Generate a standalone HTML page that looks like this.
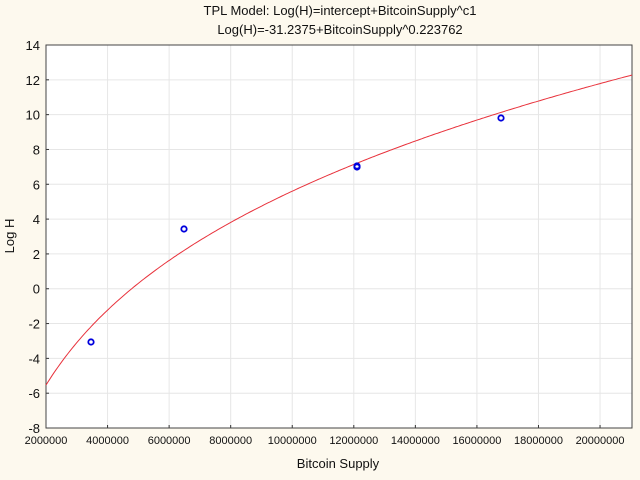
<!DOCTYPE html><html><head><meta charset="utf-8"><style>
body{margin:0;background:#fdf9ee;width:640px;height:475px;overflow:hidden}
text{font-family:"Liberation Sans",sans-serif;fill:#111}
</style></head><body>
<svg id="s" width="640" height="475" xmlns="http://www.w3.org/2000/svg">
<rect x="46" y="45" width="586" height="383" fill="#fff"/>
<g id="grid" stroke="#e6e6e6" stroke-width="1"></g>
<rect x="46" y="45" width="586" height="383" fill="none" stroke="#444" stroke-width="1"/>
<text x="340" y="15" font-size="13" text-anchor="middle">TPL Model: Log(H)=intercept+BitcoinSupply^c1</text>
<text x="340" y="34" font-size="13" text-anchor="middle">Log(H)=-31.2375+BitcoinSupply^0.223762</text>
<text x="338" y="468" font-size="13" text-anchor="middle">Bitcoin Supply</text>
<text transform="translate(14,236) rotate(-90)" font-size="13" text-anchor="middle">Log H</text>
<g id="lab"></g>
<path id="curve" fill="none" stroke="#e8323c" stroke-width="1"/>
<g fill="none" stroke="#0000dd" stroke-width="1.8">
<circle cx="91" cy="342" r="2.7"/><circle cx="184" cy="229" r="2.7"/>
<circle cx="357" cy="167" r="2.7"/><circle cx="357" cy="166" r="2.7"/>
<circle cx="501" cy="118" r="2.7"/></g>
</svg>
<script>
var X=function(v){return 46+(v-2e6)/1e6*30.78},Y=function(v){return 45+(14-v)*17.41};
var g=document.getElementById('grid'),l=document.getElementById('lab'),h='',t='';
for(var i=2e6;i<=2e7;i+=2e6){var x=X(i);h+='<line x1="'+x+'" y1="45" x2="'+x+'" y2="428"/><line x1="'+x+'" y1="425" x2="'+x+'" y2="428" stroke="#333"/>';t+='<text x="'+x+'" y="444" font-size="11" text-anchor="middle">'+i+'</text>';}
for(var v=-8;v<=14;v+=2){var y=Y(v);h+='<line x1="46" y1="'+y+'" x2="632" y2="'+y+'"/><line x1="46" y1="'+y+'" x2="49" y2="'+y+'" stroke="#333"/>';t+='<text x="40" y="'+(y+5)+'" font-size="13" text-anchor="end">'+v+'</text>';}
g.innerHTML=h;l.innerHTML=t;
var d='';for(var px=46;px<=632;px+=2){var xv=2e6+(px-46)/30.78*1e6;var yv=-31.2375+Math.pow(xv,0.223762);d+=(d?'L':'M')+px+','+Y(yv).toFixed(1);}
document.getElementById('curve').setAttribute('d',d);
</script>
</body></html>
